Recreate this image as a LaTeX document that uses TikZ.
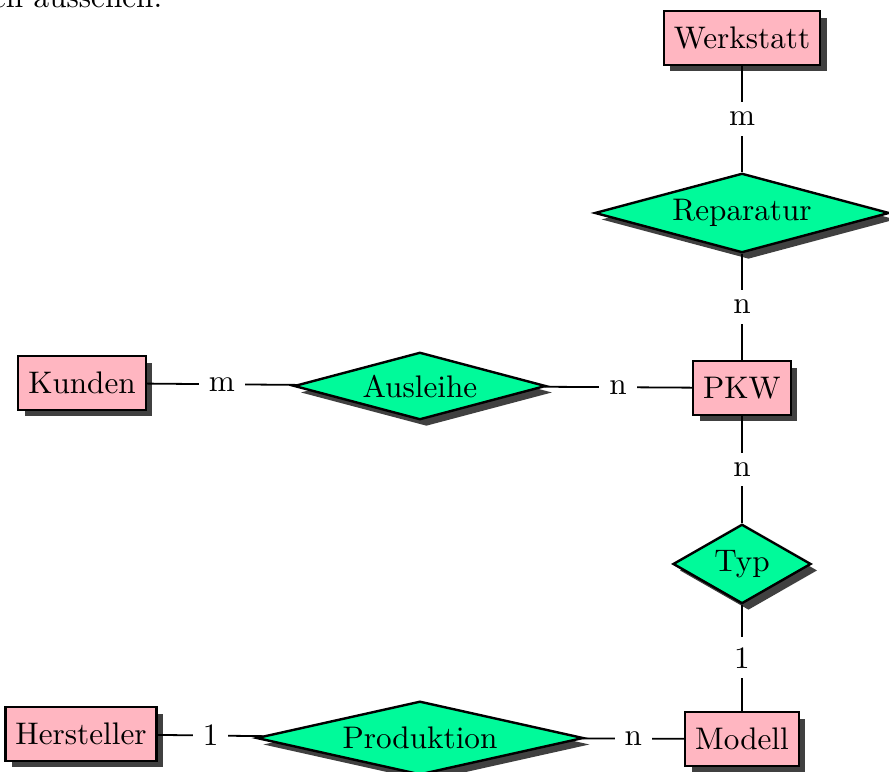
\documentclass[tikz,border=0pt]{standalone}
\usepackage{tikz}
\usetikzlibrary{shapes.geometric,shadows}

\definecolor{entityPink}{RGB}{255,182,193}
\definecolor{relGreen}{RGB}{0,250,154}

\begin{document}
\begin{tikzpicture}[
    every node/.style={font=\fontsize{10.4}{12.5}\selectfont},
    entitaet/.style={draw,thick,fill=entityPink,minimum height=0.63cm,drop shadow={opacity=1,fill=black!75}},
    beziehung/.style={draw,thick,diamond,aspect=3,inner sep=0pt,fill=relGreen,drop shadow={opacity=1,fill=black!75}},
    kard/.style={fill=white}
]
    \useasboundingbox (0,0) rectangle (10.415,-9.044);
    % Textzeile oberhalb des Diagramms
    \node[anchor=base west,inner sep=0pt] (text) at (-0.1,-0.082) {en aussehen.};

    % Entitaeten
    \node[entitaet] (werkstatt) at (8.693,-0.445) {Werkstatt};
    \node[entitaet] (pkw) at (8.693,-4.545) {PKW};
    \node[entitaet] (modell) at (8.693,-8.657) {Modell};
    \node[entitaet] (kunden) at (0.961,-4.487) {Kunden};
    \node[entitaet] (hersteller) at (0.949,-8.599) {Hersteller};

    % Beziehungen
    \node[beziehung,minimum width=3.45cm,minimum height=0.93cm] (reparatur) at (8.693,-2.495) {Reparatur};
    \node[beziehung,minimum width=1.55cm,minimum height=0.93cm] (typ) at (8.693,-6.607) {Typ};
    \node[beziehung,minimum width=2.95cm,minimum height=0.79cm] (ausleihe) at (4.920,-4.522) {Ausleihe};
    \node[beziehung,minimum width=3.83cm,minimum height=0.82cm] (produktion) at (4.920,-8.646) {Produktion};

    \draw[semithick] (werkstatt) -- node[kard]{m} (reparatur);
    \draw[semithick] (reparatur) -- node[kard]{n} (pkw);
    \draw[semithick] (pkw) -- node[kard]{n} (typ);
    \draw[semithick] (typ) -- node[kard]{1} (modell);
    \draw[semithick] (kunden) -- node[kard]{m} (ausleihe);
    \draw[semithick] (ausleihe) -- node[kard]{n} (pkw);
    \draw[semithick] (hersteller) -- node[kard]{1} (produktion);
    \draw[semithick] (produktion) -- node[kard]{n} (modell);
\end{tikzpicture}
\end{document}
